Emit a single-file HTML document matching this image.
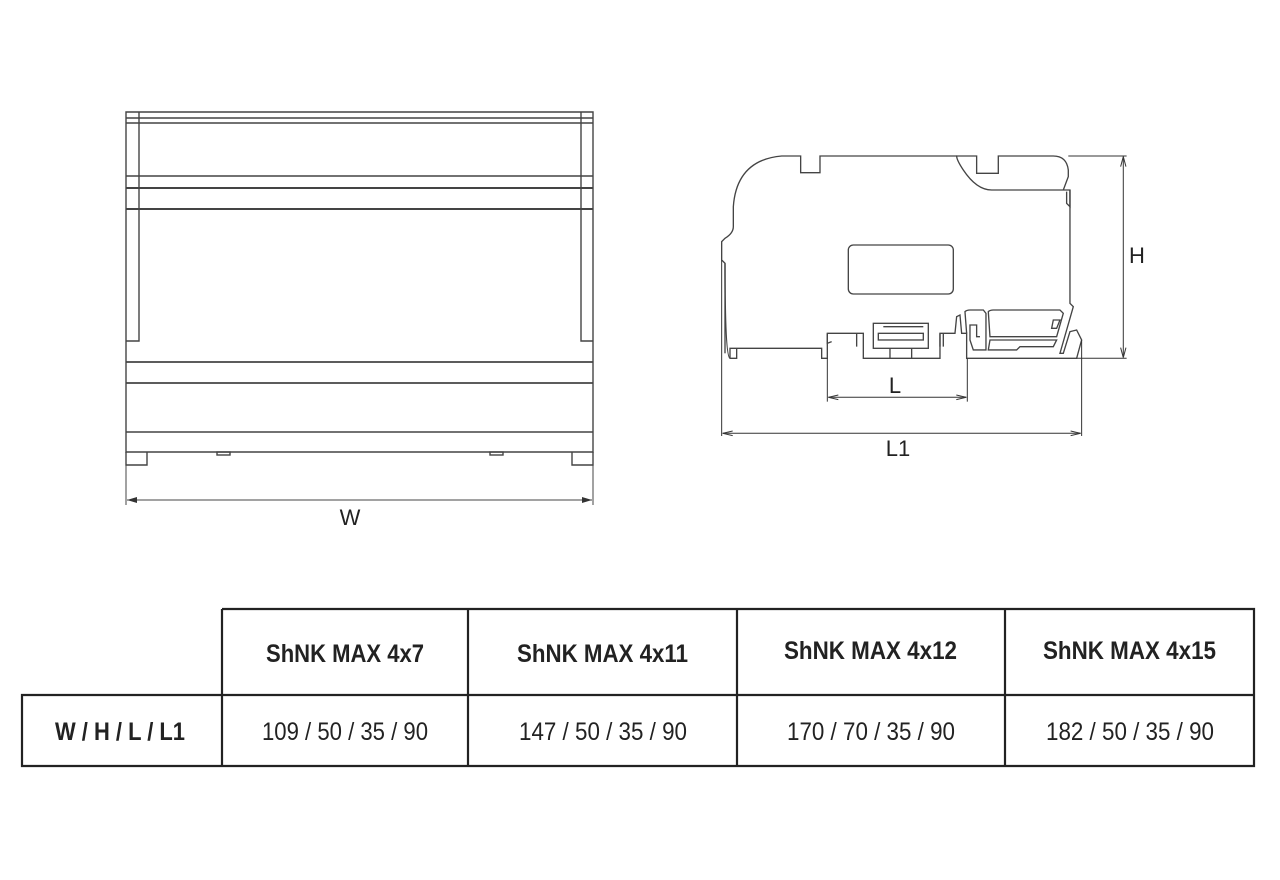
<!DOCTYPE html>
<html><head><meta charset="utf-8"><style>
html,body{margin:0;padding:0;background:#fff;}
svg{display:block;}
</style></head><body>
<svg width="1280" height="880" viewBox="0 0 1280 880" xmlns="http://www.w3.org/2000/svg">
<defs>
<marker id="ar" markerWidth="10" markerHeight="6" refX="10" refY="3" orient="auto-start-reverse" markerUnits="userSpaceOnUse">
<path d="M0,0 L10,3 L0,6 Z" fill="#333"/></marker>
</defs>
<!-- LEFT FRONT VIEW -->
<g fill="none" stroke="#444" stroke-width="1.4">
<path d="M126,112 H593 V452 H126 Z"/>
<line x1="126" y1="118" x2="593" y2="118"/>
<line x1="126" y1="123" x2="593" y2="123"/>
<line x1="126" y1="176" x2="593" y2="176"/>
<line x1="126" y1="188" x2="593" y2="188" stroke-width="2"/>
<line x1="126" y1="209" x2="593" y2="209" stroke-width="2"/>
<path d="M139,112 V341 H126"/>
<path d="M581,112 V341 H593"/>
<line x1="126" y1="362" x2="593" y2="362" stroke-width="1.8"/>
<line x1="126" y1="383" x2="593" y2="383" stroke-width="1.8"/>
<line x1="126" y1="432" x2="593" y2="432"/>
<path d="M126,452 V465 H147 V452"/>
<path d="M593,452 V465 H572 V452"/>
<rect x="217" y="452" width="13" height="3"/>
<rect x="490" y="452" width="13" height="3"/>
<line x1="126" y1="465" x2="126" y2="505" stroke-width="1"/>
<line x1="593" y1="465" x2="593" y2="505" stroke-width="1"/>
<line x1="127" y1="500" x2="592" y2="500" stroke-width="1" marker-start="url(#ar)" marker-end="url(#ar)"/>
</g>
<text x="350" y="525" font-family="Liberation Sans, sans-serif" font-size="22" text-anchor="middle" fill="#222">W</text>

<!-- RIGHT SIDE VIEW (zoom coords) -->
<g transform="translate(710,140) scale(0.3333)" fill="none" stroke="#444" stroke-width="4">
<path d="M60,655 V625 H335 V655 H352 V580 H460 V655 H690 V580 H735 L740,530 L750,525 L755,580 H770 L770,655 H1100 L1115,600 L1100,570 L1080,575 L1060,640 H1050 L1090,500 L1080,490 V150 H1060 L1075,110 V90 Q1070,48 1030,48 H865 V100 H800 V48 H740 Q740,60 760,90 Q800,150 845,150 H1060"/>
<path d="M60,655 H80 V625 M60,655 Q45,650 45,370 L35,360 V305 L45,295 Q70,280 70,260 V200 Q80,60 215,48 H272 V98 H330 V48 H740"/>
<line x1="45" y1="370" x2="45" y2="640"/>
<path d="M352,580 V610 L365,605 M690,580 V620"/>
<path d="M440,580 V620 M700,580 V620"/>
<rect x="415" y="315" width="315" height="147" rx="15"/>
<rect x="490" y="550" width="165" height="75"/>
<rect x="505" y="580" width="135" height="20"/>
<line x1="520" y1="560" x2="640" y2="560"/>
<line x1="540" y1="625" x2="540" y2="655"/>
<line x1="605" y1="625" x2="605" y2="655"/>
<path d="M770,580 L765,515 Q770,510 780,510 H820 L828,520 V630 H790 L780,600 V555 H800 V590 H810"/>
<path d="M835,515 Q840,510 850,510 H1050 L1060,520 L1040,590 H840 Z"/>
<path d="M840,600 H1040 L1030,620 H930 L920,630 H835 Z"/>
<path d="M1030,540 H1050 L1040,565 H1025 Z"/>
<path d="M1080,150 V200 L1070,190 V155"/>
<!-- dimensions -->
<g stroke-width="3" stroke="#333">
<line x1="1075" y1="48" x2="1250" y2="48"/>
<line x1="1100" y1="655" x2="1250" y2="655"/>
<line x1="1240" y1="55" x2="1240" y2="648"/>
<path d="M1240,50 L1232,80 M1240,50 L1248,80 M1240,653 L1232,623 M1240,653 L1248,623"/>
<line x1="352" y1="655" x2="352" y2="785"/>
<line x1="772" y1="655" x2="772" y2="785"/>
<line x1="355" y1="772" x2="769" y2="772"/>
<path d="M355,772 L385,765 M355,772 L385,779 M769,772 L739,765 M769,772 L739,779"/>
<line x1="35" y1="360" x2="35" y2="888"/>
<line x1="1115" y1="600" x2="1115" y2="888"/>
<line x1="38" y1="880" x2="1112" y2="880"/>
<path d="M38,880 L68,873 M38,880 L68,887 M1112,880 L1082,873 M1112,880 L1082,887"/>
</g>
</g>
<g font-family="Liberation Sans, sans-serif" font-size="22" fill="#222" text-anchor="middle">
<text x="1137" y="263">H</text>
<text x="895" y="393">L</text>
<text x="898" y="456">L1</text>
</g>

<!-- TABLE -->
<g fill="none" stroke="#222" stroke-width="2.2">
<path d="M222,609 H1254 V766 H22 V695 H1254"/>
<line x1="222" y1="609" x2="222" y2="766"/>
<line x1="468" y1="609" x2="468" y2="766"/>
<line x1="737" y1="609" x2="737" y2="766"/>
<line x1="1005" y1="609" x2="1005" y2="766"/>
</g>
<g font-family="Liberation Sans, sans-serif" font-size="25" fill="#222">
<g font-weight="bold">
<text x="266" y="662" textLength="158" lengthAdjust="spacingAndGlyphs">ShNK MAX 4x7</text>
<text x="517" y="662" textLength="171" lengthAdjust="spacingAndGlyphs">ShNK MAX 4x11</text>
<text x="784" y="659" textLength="173" lengthAdjust="spacingAndGlyphs">ShNK MAX 4x12</text>
<text x="1043" y="659" textLength="173" lengthAdjust="spacingAndGlyphs">ShNK MAX 4x15</text>
<text x="55" y="740" textLength="130" lengthAdjust="spacingAndGlyphs">W / H / L / L1</text>
</g>
<text x="262" y="740" textLength="166" lengthAdjust="spacingAndGlyphs">109 / 50 / 35 / 90</text>
<text x="519" y="740" textLength="168" lengthAdjust="spacingAndGlyphs">147 / 50 / 35 / 90</text>
<text x="787" y="740" textLength="168" lengthAdjust="spacingAndGlyphs">170 / 70 / 35 / 90</text>
<text x="1046" y="740" textLength="168" lengthAdjust="spacingAndGlyphs">182 / 50 / 35 / 90</text>
</g>
</svg>
</body></html>
